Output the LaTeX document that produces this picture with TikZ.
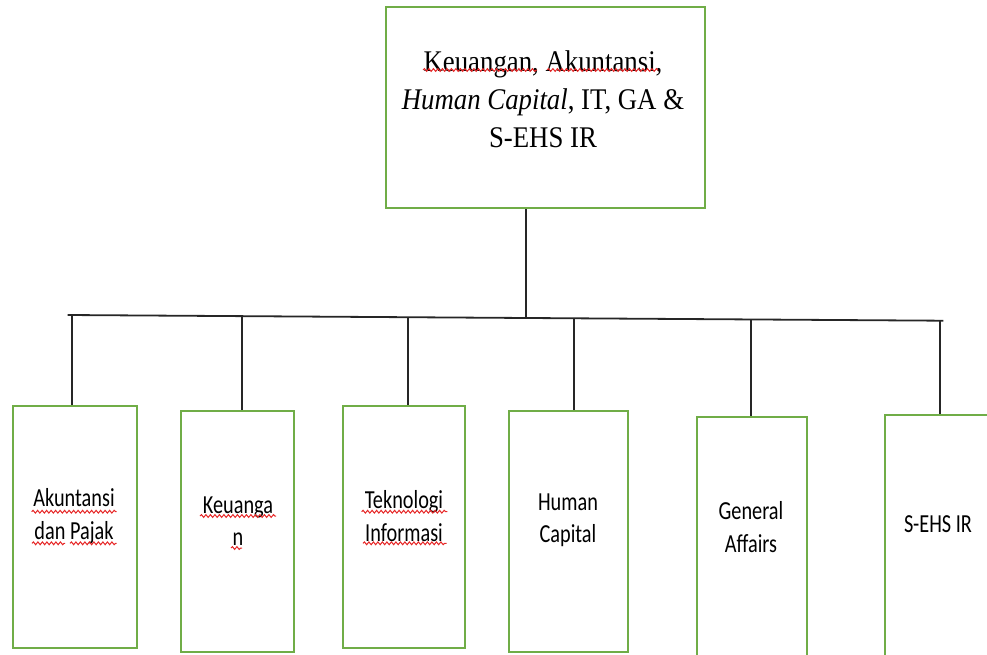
\documentclass[tikz,border=0pt]{standalone}
\usepackage{fontspec}
\usetikzlibrary{decorations.pathmorphing}
\newfontfamily\topfont[FakeStretch=0.893]{Liberation Serif}
\newfontfamily\botfont[FakeStretch=0.78]{Carlito}
\definecolor{boxgreen}{RGB}{112,173,71}
\definecolor{spellred}{RGB}{230,40,40}
\tikzset{
  unitbox/.style={draw=boxgreen, line width=2pt, rectangle, inner sep=0pt},
  conn/.style={draw=black!85, line width=1.8pt},
  toptext/.style={align=center, inner sep=0pt, font=\topfont\fontsize{30}{38}\selectfont},
  bottext/.style={align=center, inner sep=0pt, font=\botfont\fontsize{26}{32.5}\selectfont},
  squig/.style={draw=spellred, line width=1pt, decorate, decoration={snake, amplitude=1.4pt, segment length=4.5pt}}
}
\begin{document}
\begin{tikzpicture}[x=1pt,y=-1pt]
\useasboundingbox (0,0) rectangle (987,654);
\clip (0,0) rectangle (987,654);
% boxes
\node[unitbox, minimum width=319pt, minimum height=201pt] (top) at (545.5,107.5) {};
\node[unitbox, minimum width=124pt, minimum height=242pt] (b1) at (74.7,526.7) {};
\node[unitbox, minimum width=112.7pt, minimum height=241pt] (b2) at (237.3,531.2) {};
\node[unitbox, minimum width=122pt, minimum height=242pt] (b3) at (404.3,526.7) {};
\node[unitbox, minimum width=118.4pt, minimum height=241pt] (b4) at (568.5,531.2) {};
\node[unitbox, minimum width=109.4pt, minimum height=290pt] (b5) at (752,562.3) {};
\node[unitbox, minimum width=120pt, minimum height=290pt] (b6) at (945,560) {};
% texts
\node[toptext] (ttop) at (543,99) {Keuangan, Akuntansi,\\\textit{Human Capital}, IT, GA \&\\S-EHS IR};
\node[bottext] (t1) at (74,516) {Akuntansi\\dan Pajak};
\node[bottext] (t2) at (238,521) {Keuanga\\n};
\node[bottext] (t3) at (404,516) {Teknologi\\Informasi};
\node[bottext] (t4) at (568,520) {Human\\Capital};
\node[bottext] (t5) at (751,527) {General\\Affairs};
\node[bottext] (t6) at (938,524) {S-EHS IR};
% spell-check underlines
\draw[squig] (423,70) -- (537,70);
\draw[squig] (547,70) -- (658,70);
\draw[squig] (31.7,511.7) -- (116.7,511.7);
\draw[squig] (32,543.3) -- (65,543.3);
\draw[squig] (70,543.3) -- (116.7,543.3);
\draw[squig] (200,516) -- (276,516);
\draw[squig] (231,548) -- (242,548);
\draw[squig] (361.7,511.7) -- (447.3,511.7);
\draw[squig] (363,543.3) -- (446.7,543.3);
% connectors
\coordinate (busL) at (67.7,315);
\coordinate (busR) at (943.3,320.7);
\coordinate (busM) at (525.7,317.7);
\draw[conn] (busL) -- (busR);
\draw[conn] (top.south -| busM) -- (busM);
\foreach \b/\x in {b1/72, b2/241.7, b3/408.3, b4/574.3, b5/751, b6/940.3} {
  \coordinate (d\b) at ({\x},{315+(\x-67.7)*5.7/875.6});
  \draw[conn] (d\b) -- (\b.north -| d\b);
}
\end{tikzpicture}
\end{document}
